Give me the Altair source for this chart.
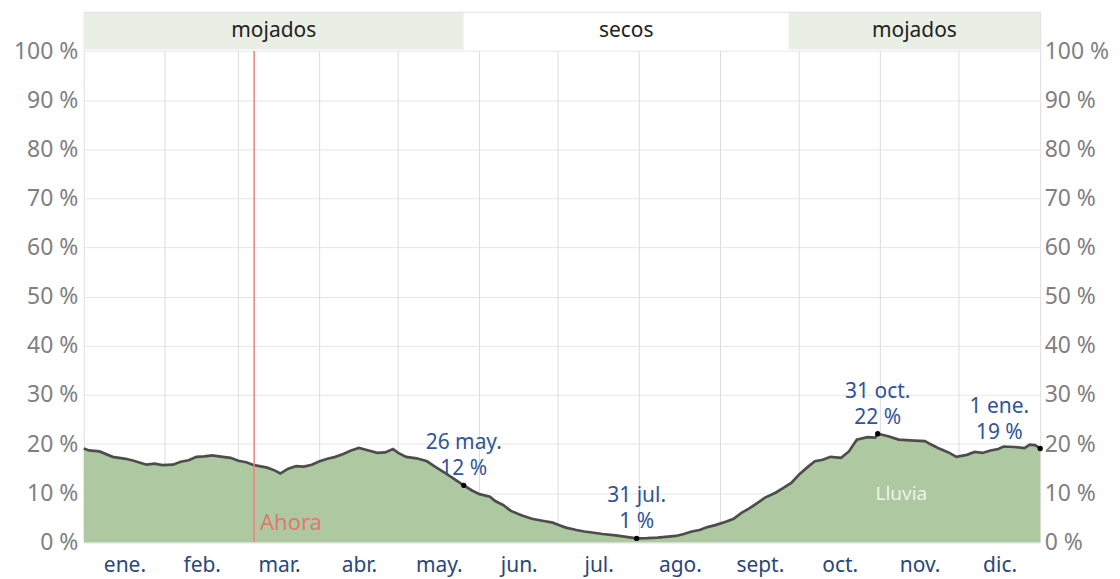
import altair as alt
import pandas as pd

# ---- data ----
days = [0, 2, 6, 11, 16, 19, 24, 27, 30, 34, 37, 40, 43, 46, 49, 53, 56, 59, 62, 65,
        70, 73, 75, 78, 81, 84, 87, 90, 93, 96, 99, 102, 105, 108, 112, 115, 118, 120,
        123, 127, 131, 134, 138, 141, 145, 148, 151, 155, 157, 160, 163, 167, 171, 175,
        179, 181, 184, 188, 191, 194, 198, 203, 207, 211, 215, 219, 222, 226, 229, 232,
        235, 238, 241, 245, 248, 251, 254, 257, 260, 264, 267, 270, 273, 276, 279, 282,
        285, 289, 292, 295, 299, 302, 303, 307, 311, 314, 317, 321, 323, 326, 330, 333,
        337, 340, 343, 346, 349, 351, 355, 359, 361, 363, 365]
pct = [19.1, 18.7, 18.5, 17.4, 17.0, 16.6, 15.8, 16.0, 15.7, 15.8, 16.4, 16.7, 17.4,
       17.5, 17.7, 17.4, 17.2, 16.6, 16.3, 15.7, 15.2, 14.6, 14.0, 15.0, 15.5, 15.4,
       15.8, 16.5, 17.0, 17.4, 18.0, 18.7, 19.2, 18.8, 18.2, 18.3, 19.0, 18.2, 17.4,
       17.1, 16.5, 15.4, 14.1, 13.0, 11.6, 10.6, 9.8, 9.3, 8.4, 7.6, 6.4, 5.5, 4.8,
       4.4, 4.0, 3.6, 3.0, 2.5, 2.2, 2.0, 1.7, 1.4, 1.1, 0.8, 0.85, 0.95, 1.1, 1.3,
       1.7, 2.2, 2.5, 3.1, 3.5, 4.2, 4.8, 6.0, 6.9, 8.0, 9.1, 10.1, 11.1, 12.1, 13.8,
       15.2, 16.5, 16.8, 17.4, 17.2, 18.5, 20.9, 21.4, 21.3, 22.1, 21.6, 20.9, 20.8,
       20.7, 20.6, 20.0, 19.2, 18.3, 17.4, 17.8, 18.4, 18.2, 18.7, 19.0, 19.5, 19.4,
       19.2, 19.9, 19.8, 19.1]

month_names = ["ene.", "feb.", "mar.", "abr.", "may.", "jun.", "jul.", "ago.",
               "sept.", "oct.", "nov.", "dic."]
month_starts = [0, 31, 59, 90, 120, 151, 181, 212, 243, 273, 304, 334, 365]

season_names = ["mojados", "secos", "mojados"]
season_start = [0, 145, 269]
season_end = [145, 269, 365]
season_fill = ["#e9efe4", "#ffffff", "#e9efe4"]

ann_days = [145, 211, 303, 365]
ann_pct = [11.6, 0.8, 22.1, 19.1]
ann_date = ["26 may.", "31 jul.", "31 oct.", "1 ene."]
ann_value = ["12 %", "1 %", "22 %", "19 %"]

now_day = [65]
y_ticks = [0, 10, 20, 30, 40, 50, 60, 70, 80, 90, 100]

# ---- layout / style constants ----
W, H = 959, 532
Y_MAX = 108
BAND_LO, BAND_HI = 100.3, 107.8
FONT = "Noto Sans"
LABEL_BLUE = "#2f5597"
MONTH_BLUE = "#2a4778"
FS = 21
FS_Y = 23

month_mids = [(month_starts[i] + month_starts[i + 1]) / 2 for i in range(12)]
expr = "''"
for m, n in reversed(list(zip(month_mids, month_names))):
    expr = f"datum.value == {m} ? '{n}' : ({expr})"

xscale = alt.Scale(domain=[0, 365], nice=False, zero=False)
yscale = alt.Scale(domain=[0, Y_MAX], nice=False)
xaxis = alt.Axis(values=month_mids, labelExpr=expr, ticks=False, domain=False, grid=False,
                 labelFontSize=FS, labelColor=MONTH_BLUE, labelPadding=12, title=None,
                 labelFont=FONT)


def X(field, **kw):
    return alt.X(field, type="quantitative", scale=xscale, axis=xaxis, **kw)


curve = pd.DataFrame({"day": days, "pct": pct})
seasons = pd.DataFrame({"name": season_names, "start": season_start, "end": season_end,
                        "fill": season_fill})
seasons["mid"] = (seasons["start"] + seasons["end"]) / 2
grid = pd.DataFrame({"day": month_starts[1:-1]})
ann = pd.DataFrame({"day": ann_days, "pct": ann_pct, "date": ann_date, "value": ann_value})
now = pd.DataFrame({"day": now_day})

band = alt.Chart(seasons).mark_rect().encode(
    x=X("start"), x2="end",
    y=alt.Y(datum=BAND_LO, scale=yscale, axis=None), y2=alt.Y2(datum=BAND_HI),
    color=alt.Color("fill:N", scale=None),
)
band_text = alt.Chart(seasons).mark_text(fontSize=FS, font=FONT, color="#222").encode(
    x=X("mid"), y=alt.Y(datum=(BAND_LO + BAND_HI) / 2, scale=yscale, axis=None),
    text="name:N",
)
vgrid = alt.Chart(grid).mark_rule(color="#dcdcdc", strokeWidth=1).encode(
    x=X("day"), y=alt.Y(datum=0, scale=yscale, axis=None), y2=alt.Y2(datum=100),
)
area = alt.Chart(curve).mark_area(color="#aac59c", opacity=0.95).encode(
    x=X("day"),
    y=alt.Y("pct:Q", scale=yscale,
            axis=alt.Axis(values=y_ticks, labelExpr="datum.value + ' %'", orient="left",
                          ticks=False, domain=False, grid=True, gridColor="#e6e6e6",
                          labelFontSize=FS_Y, labelColor="#808080", labelPadding=6,
                          title=None, labelFont=FONT)),
)
line = alt.Chart(curve).mark_line(color="#4d4d4d", strokeWidth=2.7).encode(
    x=X("day"),
    y=alt.Y("pct:Q", scale=yscale,
            axis=alt.Axis(values=y_ticks, labelExpr="datum.value + ' %'", orient="right",
                          ticks=False, domain=False, grid=False,
                          labelFontSize=FS_Y, labelColor="#808080", labelPadding=4,
                          title=None, labelFont=FONT)),
)
now_rule = alt.Chart(now).mark_rule(color="#ee8080", strokeWidth=1.5).encode(
    x=X("day"), y=alt.Y(datum=0, scale=yscale, axis=None), y2=alt.Y2(datum=100),
)
now_text = alt.Chart(now).mark_text(align="left", dx=6, fontSize=22, font=FONT,
                                    color="#e07a6e").encode(
    x=X("day"), y=alt.Y(datum=4, scale=yscale, axis=None), text=alt.value("Ahora"),
)
pts = alt.Chart(ann).mark_point(filled=True, color="black", size=28, opacity=1).encode(
    x=X("day"), y=alt.Y("pct:Q", scale=yscale, axis=None),
)


def ann_layer(df, field, dy, dx=0):
    return alt.Chart(df).mark_text(
        fontSize=FS, font=FONT, color=LABEL_BLUE, baseline="bottom", dy=dy, dx=dx).encode(
        x=X("day"), y=alt.Y("pct:Q", scale=yscale, axis=None), text=f"{field}:N",
    )


ann_a = ann[ann["day"] < 365]
ann_b = ann[ann["day"] == 365]
ann_layers = [
    ann_layer(ann_a, "value", -6), ann_layer(ann_a, "date", -32),
    ann_layer(ann_b, "value", -6, -41), ann_layer(ann_b, "date", -32, -41),
]
lluvia = alt.Chart(pd.DataFrame({"day": [312], "pct": [9.9]})).mark_text(
    fontSize=19, font=FONT, color="#eef3e8").encode(
    x=X("day"), y=alt.Y("pct:Q", scale=yscale, axis=None), text=alt.value("Lluvia"),
)

chart = alt.layer(
    band, band_text, vgrid, area, line, now_rule, now_text, pts, *ann_layers, lluvia
).resolve_axis(y="independent").properties(
    width=W, height=H, padding={"left": 5, "top": 3, "right": 3, "bottom": 3},
    background="white",
).configure_view(stroke=None).configure(font=FONT)

chart.save("out.html", embed_options={"renderer": "svg", "actions": False})
